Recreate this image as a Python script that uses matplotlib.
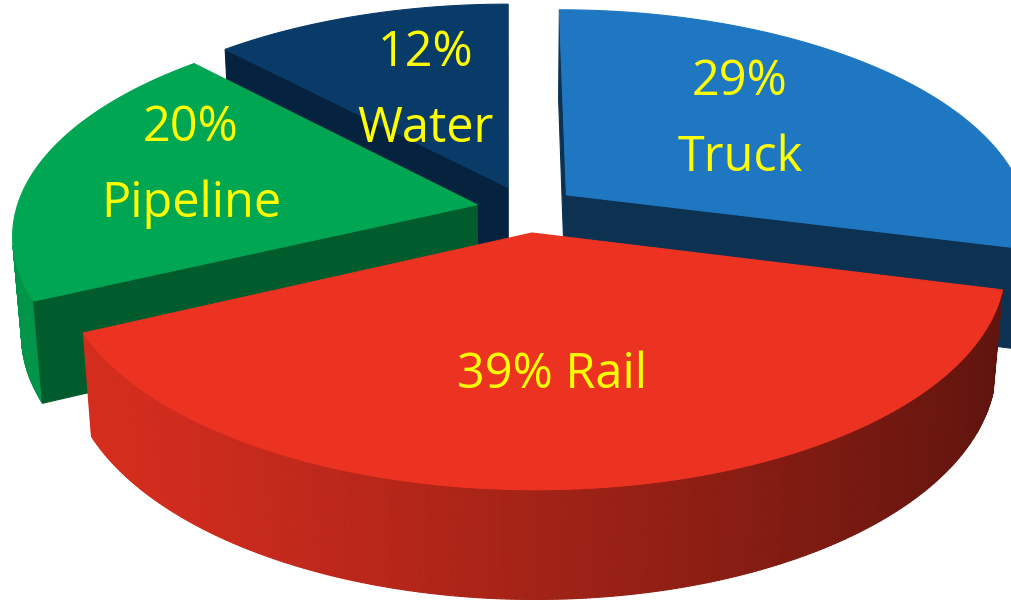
import numpy as np
import matplotlib
matplotlib.use("Agg")
import matplotlib.pyplot as plt
from matplotlib.patches import Polygon
from matplotlib.collections import PolyCollection
from matplotlib.colors import to_rgb

# ---------------- data ----------------
categories = ["Truck", "Rail", "Pipeline", "Water"]
shares = [29, 39, 20, 12]          # percent
label_texts = [f"{shares[0]}%\n{categories[0]}",
               f"{shares[1]}% {categories[1]}",
               f"{shares[2]}%\n{categories[2]}",
               f"{shares[3]}%\n{categories[3]}"]

# ---------------- style ----------------
top_colors = ["#1F77C2", "#EC3221", "#00A651", "#093B69"]
radial_shade = [0.42, 0.55, 0.55, 0.60]
explode = [0.11, 0.11, 0.11, 0.11]
label_pos = [(740, 120), (552, 375), (191, 166), (425, 91)]
TEXT_COLOR = "#FFFF00"
FONT = ["Open Sans", "DejaVu Sans"]

# ---------------- camera (perspective 3D view) ----------------
W, H = 1012, 600
THETA = np.arcsin(0.472)      # elevation
DIST = 6.3
FOCAL = 2948.0
PP = (508.0, 233.0)           # principal point in pixels
TARGET = np.array([-0.041, -0.1096, 0.0])
THICK = 0.245
START = 90.0
st, ct = np.sin(THETA), np.cos(THETA)
CAM = TARGET + np.array([0.0, -DIST * ct, DIST * st])


def project(X, Y, Z):
    X = np.asarray(X, float); Y = np.asarray(Y, float); Z = np.asarray(Z, float)
    px, py, pz = X - TARGET[0], Y - TARGET[1], Z - TARGET[2]
    zc = DIST + py * ct - pz * st
    xs = PP[0] + FOCAL * px / zc
    ys = PP[1] - FOCAL * (py * st + pz * ct) / zc
    return np.column_stack([np.atleast_1d(xs), np.atleast_1d(ys)])


def depth(X, Y, Z):
    return DIST + (Y - TARGET[1]) * ct - (Z - TARGET[2]) * st


def side_factor(phi):
    c = np.cos(phi - np.radians(205))
    return 0.38 + 0.52 * ((1 + c) / 2) ** 1.5


fig = plt.figure(figsize=(W / 100, H / 100), dpi=100)
ax = fig.add_axes([0, 0, 1, 1])
ax.set_xlim(0, W)
ax.set_ylim(H, 0)
ax.axis("off")

cum = np.concatenate([[0], np.cumsum(shares)]) / np.sum(shares) * 360.0
slices = []
for i in range(len(shares)):
    hi = np.radians(START - cum[i])
    lo = np.radians(START - cum[i + 1])
    mid = 0.5 * (lo + hi)
    ax0 = explode[i] * np.cos(mid)
    ay0 = explode[i] * np.sin(mid)
    cz = depth(ax0 + 0.5 * np.cos(mid), ay0 + 0.5 * np.sin(mid), 0.0)
    slices.append((cz, i, lo, hi, ax0, ay0))

slices.sort(key=lambda s: -s[0])

for cz, i, lo, hi, ax0, ay0 in slices:
    base = np.array(to_rgb(top_colors[i]))
    n = max(int(np.degrees(hi - lo) * 2), 8)
    phis = np.linspace(lo, hi, n + 1)
    ox = ax0 + np.cos(phis)
    oy = ay0 + np.sin(phis)
    top_pts = project(ox, oy, np.zeros_like(ox))
    bot_pts = project(ox, oy, np.full_like(ox, -THICK))

    # outer curved side
    quads, cols = [], []
    for j in range(n):
        pm = 0.5 * (phis[j] + phis[j + 1])
        nrm = np.array([np.cos(pm), np.sin(pm), 0.0])
        P = np.array([ax0 + np.cos(pm), ay0 + np.sin(pm), -THICK / 2])
        if np.dot(nrm, CAM - P) > 0:
            quads.append([top_pts[j], top_pts[j + 1], bot_pts[j + 1], bot_pts[j]])
            cols.append(np.clip(base * side_factor(pm), 0, 1))
    if quads:
        ax.add_collection(PolyCollection(quads, facecolors=cols, edgecolors=cols,
                                         linewidths=0.8, antialiased=True))

    # radial faces
    for ang, nrm in ((lo, np.array([np.sin(lo), -np.cos(lo), 0.0])),
                     (hi, np.array([-np.sin(hi), np.cos(hi), 0.0]))):
        P = np.array([ax0 + 0.5 * np.cos(ang), ay0 + 0.5 * np.sin(ang), -THICK / 2])
        if np.dot(nrm, CAM - P) > 0:
            ex, ey = ax0 + np.cos(ang), ay0 + np.sin(ang)
            pts = project([ax0, ex, ex, ax0], [ay0, ey, ey, ay0],
                          [0, 0, -THICK, -THICK])
            c = np.clip(base * radial_shade[i], 0, 1)
            ax.add_patch(Polygon(pts, closed=True, facecolor=c, edgecolor=c,
                                 linewidth=0.8))

    # top face
    apex = project([ax0], [ay0], [0.0])
    poly = np.vstack([apex, top_pts])
    ax.add_patch(Polygon(poly, closed=True, facecolor=base, edgecolor=base,
                         linewidth=0.8))

for i, txt in enumerate(label_texts):
    x, y = label_pos[i]
    ax.text(x, y, txt, color=TEXT_COLOR, fontsize=35, ha="center", va="center",
            family=FONT, linespacing=1.7)

fig.savefig("out.png", dpi=100)
